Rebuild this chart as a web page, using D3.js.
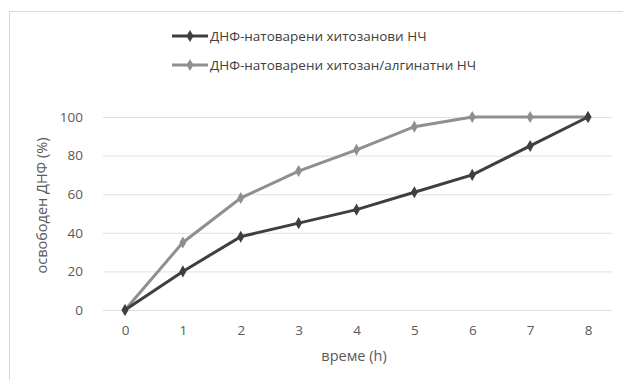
<!DOCTYPE html>
<html>
<head>
<meta charset="utf-8">
<script src="https://cdn.jsdelivr.net/npm/d3@7"></script>
<style>
body { margin: 0; background: #fff; }
text { font-family: "Open Sans", "DejaVu Sans", sans-serif; fill: #555; }
</style>
</head>
<body>
<script>
// chart values
var hours = [0, 1, 2, 3, 4, 5, 6, 7, 8];
var chitosan = [0, 20, 38, 45, 52, 61, 70, 85, 100];
var chitosanAlginate = [0, 35, 58, 72, 83, 95, 100, 100, 100];
var seriesNames = ["ДНФ-натоварени хитозанови НЧ", "ДНФ-натоварени хитозан/алгинатни НЧ"];
var yTicks = [0, 20, 40, 60, 80, 100];

// layout magic numbers
var w = 623, h = 380;
var plotLeft = 125, plotRight = 588, plotTop = 117, plotBottom = 310;
var colors = ["#3f3f3f", "#8f8f8f"];

var svg = d3.select("body").append("svg")
    .attr("width", w)
    .attr("height", h);

// frame
svg.append("rect")
    .attr("x", 9.5).attr("y", 11.5)
    .attr("width", 640).attr("height", 400)
    .attr("fill", "none")
    .attr("stroke", "#d9d9d9");

var x = d3.scaleLinear().domain([0, 8]).range([plotLeft, plotRight]);
var y = d3.scaleLinear().domain([0, 100]).range([plotBottom, plotTop]);

// gridlines
svg.append("g")
    .selectAll("line")
    .data(yTicks)
    .enter().append("line")
    .attr("x1", 103).attr("x2", 612)
    .attr("y1", function(d) { return y(d) + 0.5; })
    .attr("y2", function(d) { return y(d) + 0.5; })
    .attr("stroke", "#e0e0e0")
    .attr("stroke-width", 1);

// y axis
var yAxis = svg.append("g")
    .attr("transform", "translate(83,0)")
    .call(d3.axisLeft(y).tickValues(yTicks).tickSize(0).tickPadding(0));
yAxis.select(".domain").remove();
yAxis.selectAll("text")
    .attr("font-size", 13.5)
    .style("fill", "#595959");

// x axis
var xAxis = svg.append("g")
    .attr("transform", "translate(0,325)")
    .call(d3.axisBottom(x).tickValues(hours).tickSize(0).tickPadding(0));
xAxis.select(".domain").remove();
xAxis.selectAll("text")
    .attr("font-size", 13.5)
    .style("fill", "#595959");

// axis titles
svg.append("text")
    .attr("transform", "translate(47," + ((plotTop + plotBottom) / 2 - 8) + ") rotate(-90)")
    .attr("text-anchor", "middle")
    .attr("font-size", 14.5)
    .style("fill", "#595959")
    .text("освободен ДНФ (%)");

svg.append("text")
    .attr("x", 354).attr("y", 361)
    .attr("text-anchor", "middle")
    .attr("font-size", 14.5)
    .style("fill", "#595959")
    .text("време (h)");

// lines
var line = d3.line()
    .x(function(d, i) { return x(hours[i]); })
    .y(function(d) { return y(d); });

var allSeries = [chitosan, chitosanAlginate];
var diamond = d3.symbol().type(d3.symbolDiamond).size(42);

// draw lighter series first so dark one lies on top where they meet
[1, 0].forEach(function(k) {
    svg.append("path")
        .datum(allSeries[k])
        .attr("d", line)
        .attr("fill", "none")
        .attr("stroke", colors[k])
        .attr("stroke-width", 3);
    svg.append("g")
        .selectAll("path")
        .data(allSeries[k])
        .enter().append("path")
        .attr("d", diamond)
        .attr("transform", function(d, i) {
            return "translate(" + x(hours[i]) + "," + y(d) + ")";
        })
        .attr("fill", colors[k]);
});

// legend
var legend = svg.append("g")
    .selectAll("g")
    .data(seriesNames)
    .enter().append("g")
    .attr("transform", function(d, i) { return "translate(172," + (36 + i * 29) + ")"; });

legend.append("line")
    .attr("x1", 0).attr("x2", 36)
    .attr("stroke", function(d, i) { return colors[i]; })
    .attr("stroke-width", 3);
legend.append("path")
    .attr("d", diamond)
    .attr("transform", "translate(18,0)")
    .attr("fill", function(d, i) { return colors[i]; });
legend.append("text")
    .attr("x", 38).attr("y", 5)
    .attr("font-size", 13.5)
    .style("fill", "#404040")
    .text(function(d) { return d; });
</script>
</body>
</html>
